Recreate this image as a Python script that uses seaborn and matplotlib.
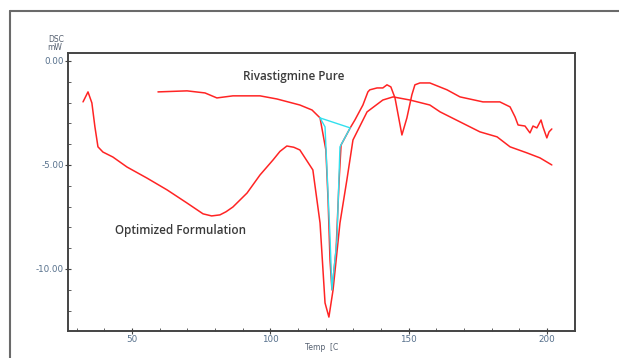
import numpy as np
import pandas as pd
import matplotlib
matplotlib.use("Agg")
import matplotlib.pyplot as plt
import seaborn as sns
from matplotlib.ticker import MultipleLocator
from matplotlib.lines import Line2D

# Optimized formulation trace (temp C, heat flow mW)
opt_temp = [32.3, 34.1, 35.5, 36.6, 37.7, 39.5, 43.1, 48.2, 55.4, 62.7, 69.9, 75.7, 78.8,
            81.8, 84.0, 86.5, 91.6, 96.3, 101.0, 103.5, 106.0, 108.5, 110.7, 115.4, 118.0,
            119.8, 121.2, 122.7, 125.2, 127.7, 129.9, 135.0, 140.7, 144.4, 150.5, 157.7,
            161.4, 168.6, 175.8, 182.0, 186.7, 192.8, 197.5, 201.8]
opt_flow = [-1.97, -1.49, -2.02, -3.17, -4.13, -4.38, -4.62, -5.10, -5.63, -6.20, -6.83, -7.35, -7.45,
            -7.40, -7.25, -7.02, -6.35, -5.48, -4.76, -4.35, -4.09, -4.15, -4.28, -5.24, -7.79,
            -11.63, -12.31, -11.01, -7.79, -5.72, -3.80, -2.45, -1.88, -1.73, -1.88, -2.12,
            -2.45, -2.93, -3.41, -3.65, -4.13, -4.42, -4.66, -5.00]

# Rivastigmine pure trace
pure_temp = [59.4, 69.9, 76.4, 80.7, 86.5, 96.3, 102.4, 110.7, 115.1, 118.0, 120.1, 120.9,
             121.6, 122.3, 123.8, 124.9, 125.6, 128.9, 130.6, 133.5, 135.3, 136.0, 138.6,
             140.7, 142.2, 143.6, 145.1, 147.6, 149.4, 151.2, 152.3, 154.1, 157.7, 163.9,
             168.6, 176.9, 183.0, 186.7, 188.5, 189.6, 192.1, 193.9, 195.0, 196.4, 197.9,
             198.6, 200.0, 200.8, 201.8]
pure_flow = [-1.49, -1.44, -1.54, -1.78, -1.68, -1.68, -1.83, -2.12, -2.36, -2.74, -4.28, -6.68,
             -9.57, -11.00, -9.09, -5.72, -4.04, -3.22, -2.84, -2.12, -1.49, -1.39, -1.30,
             -1.30, -1.15, -1.25, -1.78, -3.56, -2.74, -1.63, -1.15, -1.06, -1.06, -1.39,
             -1.73, -1.97, -1.97, -2.21, -2.69, -3.08, -3.13, -3.46, -3.13, -3.22, -2.84,
             -3.17, -3.70, -3.41, -3.27]

# integration outline of the melting peak
peak_temp = [118.0, 119.8, 121.6, 122.3, 124.1, 125.2, 128.9, 118.0]
peak_flow = [-2.74, -3.17, -8.46, -11.00, -8.61, -4.13, -3.22, -2.74]

opt = pd.DataFrame({"temp": opt_temp, "flow": opt_flow})
pure = pd.DataFrame({"temp": pure_temp, "flow": pure_flow})
peak = pd.DataFrame({"temp": peak_temp, "flow": peak_flow})

sns.set_theme(style="white")
plt.rcParams["font.family"] = ["DejaVu Sans"]

fig = plt.figure(figsize=(6.19, 3.58), dpi=100)
ax = fig.add_axes([0.110, 0.0754, 0.819, 0.7766])

red = "#ff2424"
sns.lineplot(data=opt, x="temp", y="flow", sort=False, estimator=None, ax=ax, color=red, lw=1.1)
sns.lineplot(data=pure, x="temp", y="flow", sort=False, estimator=None, ax=ax, color=red, lw=1.1)
sns.lineplot(data=peak, x="temp", y="flow", sort=False, estimator=None, ax=ax, color="#33e0ee", lw=1.0)

ax.set_xlim(26.9, 210.2)
ax.set_ylim(-12.98, 0.38)
ax.xaxis.set_major_locator(MultipleLocator(50))
ax.xaxis.set_minor_locator(MultipleLocator(10))
ax.yaxis.set_major_locator(MultipleLocator(5))
ax.yaxis.set_minor_locator(MultipleLocator(1))
ax.yaxis.set_major_formatter(plt.FormatStrFormatter("%.2f"))
ax.set_xlabel("")
ax.set_ylabel("")

tick_col = "#56708c"
ax.tick_params(which="major", direction="inout", length=4, width=0.8, color="#444444",
               labelsize=6.3, labelcolor=tick_col, pad=1, bottom=True, left=True)
ax.tick_params(which="minor", direction="in", length=2, width=0.6, color="#444444",
               bottom=True, left=True)
for s in ax.spines.values():
    s.set_color("#444444")
    s.set_linewidth(1.4)

ax.text(90.1, -0.77, "Rivastigmine Pure", fontsize=8.4, color="#3a3a3a",
        family="Open Sans", weight="semibold", va="center", ha="left")
ax.text(43.9, -8.17, "Optimized Formulation", fontsize=8.4, color="#3a3a3a",
        family="Open Sans", weight="semibold", va="center", ha="left")

fig.text(56 / 619, 1 - 40 / 358, "DSC", fontsize=5.5, color="#556070", ha="center", va="center")
fig.text(55 / 619, 1 - 48 / 358, "mW", fontsize=5.5, color="#556070", ha="center", va="center")
fig.text(322 / 619, 1 - 348 / 358, "Temp  [C", fontsize=5.5, color="#556070", ha="center", va="center")

# outer frame of the screenshot
fig.add_artist(Line2D([10 / 619, 10 / 619], [0, 1 - 11 / 358], transform=fig.transFigure,
                      color="#6a6a6a", lw=1.5))
fig.add_artist(Line2D([10 / 619, 1], [1 - 11 / 358, 1 - 11 / 358], transform=fig.transFigure,
                      color="#6a6a6a", lw=1.5))

fig.savefig("out.png", dpi=100)
